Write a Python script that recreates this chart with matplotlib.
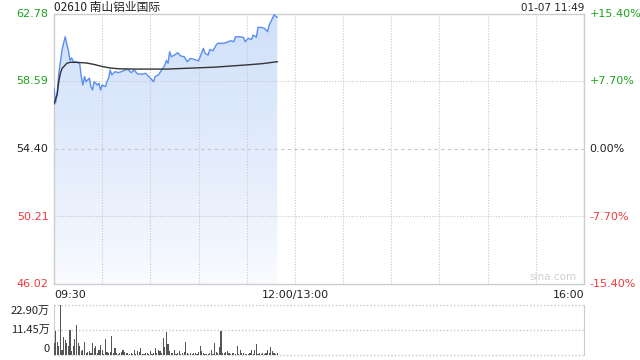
import numpy as np
import matplotlib
matplotlib.use("Agg")
import matplotlib.pyplot as plt
from matplotlib.colors import LinearSegmentedColormap

plt.rcParams['font.family'] = ['Noto Sans CJK SC', 'DejaVu Sans']

title = "02610 南山铝业国际"
stamp = "01-07 11:49"
prev_close = 54.40
price_ticks = [62.78, 58.59, 54.40, 50.21, 46.02]
pct_labels = ["+15.40%", "+7.70%", "0.00%", "-7.70%", "-15.40%"]
time_labels = ["09:30", "12:00/13:00", "16:00"]
vol_ticks = [22.90, 11.45, 0]
vol_labels = ["22.90万", "11.45万", "0"]

# minutes since 09:30 and price
price_t = [0, 1, 2, 3, 5, 6, 7, 8, 9, 10, 11, 12, 14, 16, 17, 18, 19, 20, 22, 23,
           24, 25, 27, 28, 29, 30, 32, 33, 34, 35, 36, 38, 40, 42, 44, 46, 48, 50,
           52, 55, 57, 59, 60, 62, 63, 65, 67, 69, 70, 71, 72, 73, 75, 77, 79, 81,
           83, 85, 87, 90, 91, 93, 94, 96, 97, 99, 101, 102, 105, 107, 110, 112,
           113, 115, 118, 119, 121, 123, 124, 126, 127, 129, 131, 133, 134, 136,
           137, 139]
price_v = [58.17, 57.26, 57.90, 59.10, 60.55, 60.98, 61.37, 60.90, 60.50, 59.90,
           60.05, 59.82, 59.80, 59.70, 58.89, 58.37, 58.90, 58.58, 58.80, 58.27,
           58.06, 58.58, 58.37, 58.48, 58.06, 58.37, 58.27, 58.58, 58.80, 59.30,
           59.00, 59.20, 59.14, 59.20, 59.30, 59.35, 59.14, 59.30, 59.06, 59.05,
           59.10, 58.90, 58.80, 58.58, 58.90, 59.00, 59.30, 59.60, 59.90, 59.72,
           60.44, 60.13, 60.23, 60.38, 60.17, 60.13, 59.82, 60.03, 59.97, 59.88,
           60.13, 60.65, 60.34, 60.23, 60.58, 60.50, 60.86, 60.96, 60.96, 61.00,
           61.12, 61.06, 61.37, 61.37, 61.33, 61.06, 61.27, 61.20, 61.48, 61.33,
           61.95, 61.95, 61.89, 61.68, 62.10, 62.51, 62.72, 62.57]

avg_t = [0, 1, 2, 3, 4, 5, 8, 10, 14, 20, 25, 30, 35, 40, 50, 60, 70, 80, 90,
         100, 110, 120, 130, 139]
avg_v = [57.20, 57.50, 57.80, 58.60, 59.10, 59.40, 59.72, 59.78, 59.78, 59.74,
         59.65, 59.52, 59.43, 59.38, 59.36, 59.36, 59.36, 59.40, 59.44, 59.48,
         59.55, 59.62, 59.70, 59.82]

# volume per minute (万股)
volume = [5.4, 11.1, 6.1, 4.0, 22.9, 2.5, 8.4, 6.9, 5.4, 4.2, 11.4, 2.0, 4.0, 7.3,
          13.7, 5.4, 4.0, 2.0, 2.5, 6.1, 1.0, 1.2, 2.0, 1.0, 5.6, 3.0, 4.0, 0.7,
          2.3, 4.6, 2.5, 0.5, 7.3, 1.5, 0.8, 1.2, 8.8, 1.0, 3.0, 0.8, 0.5, 0.8,
          1.5, 2.2, 1.5, 1.0, 1.0, 0.5, 0.8, 0.5, 2.5, 0.5, 2.0, 1.5, 3.0, 0.5,
          0.5, 0.8, 1.0, 0.5, 2.0, 0.5, 0.8, 3.0, 0.8, 2.5, 2.0, 1.0,
          7.6, 3.5, 10.6, 5.0, 2.0, 1.0, 0.8, 2.5, 0.5, 1.0, 2.0, 0.5, 0.8, 1.5,
          6.0, 0.8, 0.5, 0.8, 0.5, 0.8, 1.0, 0.5, 1.5, 4.0, 2.0, 0.8, 0.5, 0.5,
          0.5, 0.8, 2.5, 0.5, 5.6, 1.5, 1.0, 3.5, 11.0, 1.0, 0.8, 1.5, 2.0, 0.8,
          0.5, 0.8, 1.0, 0.5, 4.0, 0.5, 2.5, 0.8, 0.8, 0.5, 0.5, 0.5, 0.8, 2.2,
          0.5, 2.2, 5.2, 0.5, 0.8, 0.5, 0.8, 0.5, 0.8, 2.2, 1.0, 3.5, 2.0, 0.8,
          0.5, 0.8]

TOTAL_MIN = 330
GREEN = "#1aa31a"
RED = "#f03a3a"
GRID = "#c8c8c8"
TXT = "#222222"

fig = plt.figure(figsize=(6.4, 3.6), dpi=100)
ax = fig.add_axes([54/640, 1-284/360, 530/640, 270/360])
axv = fig.add_axes([54/640, 1-355/360, 530/640, 50/360])

# --- price panel ---
ax.set_xlim(0, TOTAL_MIN)
ax.set_ylim(price_ticks[-1], price_ticks[0])
poly = ax.fill_between(price_t, price_v, price_ticks[-1], color="none", lw=0)
cmap = LinearSegmentedColormap.from_list("g", ["#fbfcff", "#d0e0fa"])
grad = np.linspace(0, 1, 256).reshape(-1, 1) ** 0.8
im = ax.imshow(grad, cmap=cmap, aspect="auto", origin="lower",
               extent=[0, price_t[-1], price_ticks[-1], max(price_v)], zorder=1)
im.set_clip_path(poly.get_paths()[0], transform=ax.transData)
ax.plot(price_t, price_v, color="#5a8ef0", lw=1.0, zorder=3)
ax.plot(avg_t, avg_v, color="#333333", lw=1.0, zorder=3)

for t in range(30, TOTAL_MIN, 30):
    ax.axvline(t, color=GRID, lw=0.8, ls=(0, (1, 1.5)), zorder=2)
for p in price_ticks[1:-1]:
    if p == prev_close:
        ax.axhline(p, color=GRID, lw=0.8, ls=(0, (3, 3)), zorder=2)
    else:
        ax.axhline(p, color=GRID, lw=0.8, ls=(0, (1, 1.5)), zorder=2)
for s in ax.spines.values():
    s.set_color("#cccccc")
    s.set_linewidth(1.0)
ax.set_xticks([])
ax.set_yticks([])

colors = [GREEN, GREEN, TXT, RED, RED]
for p, pl, c in zip(price_ticks, pct_labels, colors):
    ax.annotate(f"{p:.2f}", xy=(0, p), xycoords=("axes fraction", "data"),
                xytext=(-4, 0), textcoords="offset points", ha="right",
                va="center", fontsize=8, color=c, family=["DejaVu Sans"])
    ax.annotate(pl, xy=(1, p), xycoords=("axes fraction", "data"),
                xytext=(4, 0), textcoords="offset points", ha="left",
                va="center", fontsize=8, color=c, family=["DejaVu Sans"])

ax.annotate(title, xy=(0, 1), xycoords="axes fraction", xytext=(0, 2),
            textcoords="offset points", ha="left", va="baseline",
            fontsize=8.5, color=TXT)
ax.annotate(stamp, xy=(1, 1), xycoords="axes fraction", xytext=(0, 2),
            textcoords="offset points", ha="right", va="baseline",
            fontsize=7.5, color=TXT, family=["DejaVu Sans"])
ax.text(0.985, 0.008, "sina.com", transform=ax.transAxes, ha="right", va="bottom",
        fontsize=7.5, color="#d0d0d0", family=["DejaVu Sans"])

for lbl, x, ha in zip(time_labels, [0, 150, TOTAL_MIN], ["left", "center", "right"]):
    ax.annotate(lbl, xy=(x, 0), xycoords=("data", "axes fraction"),
                xytext=(0, -4), textcoords="offset points", ha=ha, va="top",
                fontsize=8, color=TXT, family=["DejaVu Sans"])

# --- volume panel ---
axv.set_xlim(0, TOTAL_MIN)
axv.set_ylim(0, vol_ticks[0])
axv.bar(np.arange(len(volume)), volume, width=0.7, color="#555555", zorder=3)
for v in vol_ticks:
    axv.axhline(v, color=GRID, lw=1.0, ls=(0, (1, 1.5)), zorder=1, clip_on=False)
axv.spines["top"].set_visible(False)
axv.spines["bottom"].set_visible(False)
for k in ["left", "right"]:
    axv.spines[k].set_color("#cccccc")
axv.set_xticks([])
axv.set_yticks([])
for v, lbl, dy in zip(vol_ticks, vol_labels, [-4.5, 0, 4.5]):
    axv.annotate(lbl, xy=(0, v), xycoords=("axes fraction", "data"),
                 xytext=(-3, dy), textcoords="offset points", ha="right",
                 va="center", fontsize=8, color=TXT)

fig.savefig("out.png", dpi=100)
